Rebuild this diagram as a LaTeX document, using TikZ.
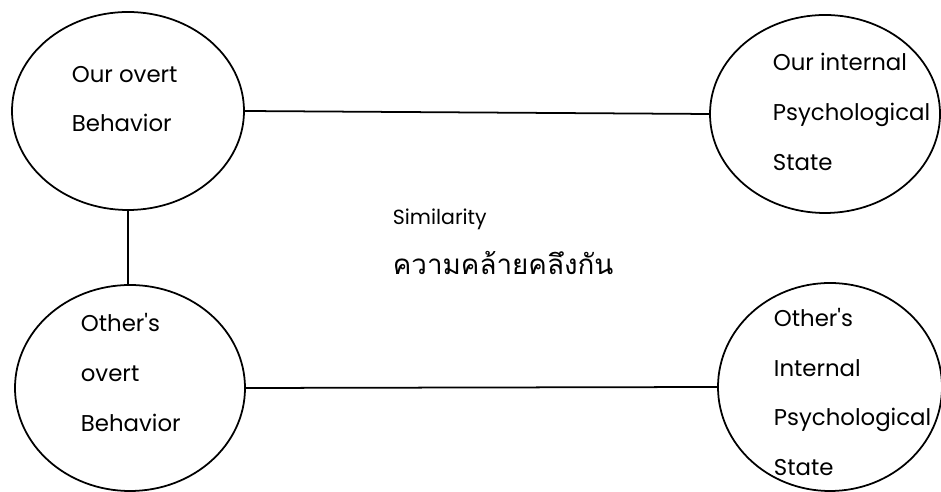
\documentclass[tikz,border=0pt]{standalone}
\usepackage{fontspec}
\setmainfont{Poppins}
\newfontfamily\thaifont[Script=Thai]{Loma}
\usetikzlibrary{shapes.geometric, calc}

\begin{document}
\begin{tikzpicture}[line width=1.5pt,
  bubble/.style={draw, ellipse, inner sep=0pt},
  lbl/.style={font=\fontsize{19.5}{42.5}\selectfont, align=left, anchor=west, inner sep=0pt}]

% Canvas
\useasboundingbox (0,0) rectangle (28.23,14.76);

% =========== Ellipses ===========
\node[bubble, minimum width=6.96cm, minimum height=5.94cm] (ourovert) at (3.84,11.43) {};
\node[bubble, minimum width=6.90cm, minimum height=5.94cm] (ourinner) at (24.75,11.34) {};
\node[bubble, minimum width=6.90cm, minimum height=6.18cm] (othovert) at (3.90,3.12) {};
\node[bubble, minimum width=6.72cm, minimum height=6.24cm] (othinner) at (24.90,3.15) {};

% =========== Texts inside ===========
\node[lbl] (ourovertT) at ($(ourovert.center)+(-1.71,0.36)$) {Our overt\\Behavior};
\node[lbl] (ourinnerT) at ($(ourinner.center)+(-1.59,0.06)$) {Our internal\\Psychological\\State};
\node[lbl] (othovertT) at ($(othovert.center)+(-1.50,0.47)$) {Other\textquotesingle s\\overt\\Behavior};
\node[lbl] (othinnerT) at ($(othinner.center)+(-1.71,-0.15)$) {Other\textquotesingle s\\Internal\\Psychological\\State};

% =========== Middle label ===========
\node[font=\fontsize{17.5}{20}\selectfont, anchor=base west, inner sep=0pt] (simEN) at (11.76,8.01) {Similarity};
\node[font=\thaifont\fontsize{23.7}{28}\selectfont, anchor=base west, inner sep=0pt] (simTH) at (11.76,6.51) {ความคล้ายคลึงกัน};

% =========== Connectors ===========
\draw (ourovert.east) -- (ourinner.west);
\draw (othovert.east) -- (othinner.west);
\draw (ourovert.south) -- (ourovert.south |- othovert.north);

\end{tikzpicture}
\end{document}
